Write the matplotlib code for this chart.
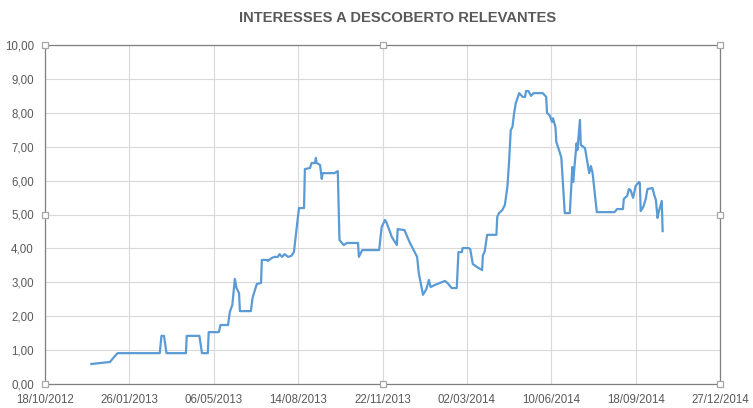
import numpy as np
import pandas as pd
import matplotlib
matplotlib.use("Agg")
import matplotlib.pyplot as plt
import matplotlib.dates as mdates
from matplotlib.ticker import FuncFormatter

# Dados
datas = [
    "2012-12-12", "2013-01-03", "2013-01-07", "2013-01-12", "2013-03-03", "2013-03-05",
    "2013-03-08", "2013-03-11", "2013-04-03", "2013-04-04", "2013-04-19", "2013-04-22",
    "2013-04-29", "2013-04-30", "2013-05-12", "2013-05-14", "2013-05-23", "2013-05-25",
    "2013-05-28", "2013-05-31", "2013-06-02", "2013-06-05", "2013-06-06", "2013-06-19",
    "2013-06-21", "2013-06-26", "2013-07-01", "2013-07-02", "2013-07-08", "2013-07-09",
    "2013-07-14", "2013-07-17", "2013-07-21", "2013-07-23", "2013-07-26", "2013-07-29",
    "2013-08-02", "2013-08-06", "2013-08-09", "2013-08-15", "2013-08-21", "2013-08-22",
    "2013-08-28", "2013-08-30", "2013-09-03", "2013-09-04", "2013-09-05", "2013-09-09",
    "2013-09-11", "2013-09-12", "2013-09-26", "2013-09-30", "2013-10-02", "2013-10-07",
    "2013-10-11", "2013-10-24", "2013-10-25", "2013-10-29", "2013-11-18", "2013-11-21",
    "2013-11-25", "2013-11-27", "2013-12-03", "2013-12-09", "2013-12-10", "2013-12-18",
    "2013-12-24", "2014-01-02", "2014-01-04", "2014-01-09", "2014-01-13", "2014-01-16",
    "2014-01-18", "2014-01-23", "2014-01-29", "2014-02-04", "2014-02-07", "2014-02-12",
    "2014-02-18", "2014-02-20", "2014-02-24", "2014-02-25", "2014-03-04", "2014-03-06",
    "2014-03-09", "2014-03-14", "2014-03-20", "2014-03-21", "2014-03-23", "2014-03-26",
    "2014-04-06", "2014-04-07", "2014-04-09", "2014-04-13", "2014-04-16", "2014-04-19",
    "2014-04-21", "2014-04-23", "2014-04-25", "2014-04-27", "2014-04-29", "2014-05-03",
    "2014-05-07", "2014-05-10", "2014-05-11", "2014-05-14", "2014-05-17", "2014-05-20",
    "2014-05-31", "2014-06-04", "2014-06-05", "2014-06-08", "2014-06-11", "2014-06-12",
    "2014-06-15", "2014-06-16", "2014-06-20", "2014-06-22", "2014-06-26", "2014-07-02",
    "2014-07-05", "2014-07-06", "2014-07-08", "2014-07-10", "2014-07-11", "2014-07-14",
    "2014-07-15", "2014-07-20", "2014-07-22", "2014-07-25", "2014-07-27", "2014-07-29",
    "2014-08-01", "2014-08-03", "2014-08-24", "2014-08-27", "2014-09-03", "2014-09-04",
    "2014-09-08", "2014-09-10", "2014-09-12", "2014-09-15", "2014-09-18", "2014-09-22",
    "2014-09-23", "2014-09-24", "2014-09-27", "2014-09-30", "2014-10-02", "2014-10-08",
    "2014-10-10", "2014-10-12", "2014-10-14", "2014-10-15", "2014-10-19", "2014-10-20",
]
valores = [
    0.59, 0.65, 0.77, 0.91, 0.91, 1.42,
    1.42, 0.91, 0.91, 1.42, 1.42, 0.91,
    0.91, 1.53, 1.53, 1.74, 1.74, 2.12,
    2.33, 3.10, 2.83, 2.68, 2.15, 2.15,
    2.54, 2.95, 2.98, 3.66, 3.66, 3.63,
    3.72, 3.75, 3.75, 3.83, 3.75, 3.83,
    3.75, 3.78, 3.89, 5.19, 5.19, 6.34,
    6.37, 6.52, 6.52, 6.67, 6.52, 6.46,
    6.05, 6.22, 6.22, 6.28, 4.25, 4.10,
    4.16, 4.16, 3.75, 3.95, 3.95, 4.63,
    4.84, 4.75, 4.34, 4.10, 4.57, 4.54,
    4.19, 3.75, 3.27, 2.63, 2.80, 3.07,
    2.86, 2.92, 2.98, 3.04, 2.98, 2.83,
    2.83, 3.89, 3.89, 4.01, 4.01, 3.98,
    3.54, 3.45, 3.36, 3.80, 3.89, 4.40,
    4.40, 4.93, 5.04, 5.13, 5.28, 5.81,
    6.55, 7.49, 7.58, 7.99, 8.29, 8.58,
    8.47, 8.47, 8.64, 8.64, 8.50, 8.58,
    8.58, 8.47, 7.99, 7.93, 7.73, 7.84,
    7.58, 7.14, 6.84, 6.67, 5.04, 5.04,
    6.40, 5.96, 6.55, 7.10, 6.90, 7.79,
    7.05, 6.96, 6.67, 6.22, 6.43, 6.22,
    5.52, 5.07, 5.07, 5.16, 5.16, 5.46,
    5.55, 5.75, 5.72, 5.49, 5.84, 5.96,
    5.93, 5.10, 5.22, 5.46, 5.75, 5.78,
    5.58, 5.43, 4.90, 5.04, 5.40, 4.51,
]

titulo = "INTERESSES A DESCOBERTO RELEVANTES"
x_inicio = pd.Timestamp("2012-10-18")
x_fim = pd.Timestamp("2014-12-27")
y_max = 10

datas = pd.to_datetime(datas)

plt.rcParams['font.family'] = ['Liberation Sans', 'DejaVu Sans']

fig = plt.figure(figsize=(7.53, 4.08), dpi=100)
ax = fig.add_axes([45 / 753, 24 / 408, 675 / 753, 339 / 408])

ax.plot(datas, valores, color='#5B9BD5', linewidth=1.6, solid_joinstyle='round')

ax.set_xlim(x_inicio, x_fim)
ax.set_ylim(0, y_max)

# ticks a cada 100 dias, como no Excel
ticks_x = pd.date_range(x_inicio, x_fim, freq='100D')
ax.set_xticks(ticks_x)
ax.xaxis.set_major_formatter(mdates.DateFormatter('%d/%m/%Y'))
ax.set_yticks(np.arange(0, y_max + 1, 1))
ax.yaxis.set_major_formatter(FuncFormatter(lambda v, p: f"{v:.2f}".replace('.', ',')))

ax.grid(True, color='#D9D9D9', linewidth=0.8)
ax.set_axisbelow(True)
ax.tick_params(axis='both', length=0, labelsize=8.3, colors='#595959')
ax.tick_params(axis='x', pad=7)
ax.tick_params(axis='y', pad=8)

for lado in ['left', 'right', 'top', 'bottom']:
    ax.spines[lado].set_color('#7F7F7F')
    ax.spines[lado].set_linewidth(0.9)

# alças de seleção da área do gráfico
alcas_x = [0, 0.5, 1, 0, 1, 0, 0.5, 1]
alcas_y = [1, 1, 1, 0.5, 0.5, 0, 0, 0]
ax.plot(alcas_x, alcas_y, linestyle='none', marker='s', markersize=4.5,
        markerfacecolor='white', markeredgecolor='#A6A6A6', markeredgewidth=0.9,
        transform=ax.transAxes, clip_on=False, zorder=5)

fig.text(398 / 753, 1 - 18 / 408, titulo, ha='center', va='center',
         fontsize=10.6, fontweight='bold', color='#595959')

fig.savefig('out.png', dpi=100)
